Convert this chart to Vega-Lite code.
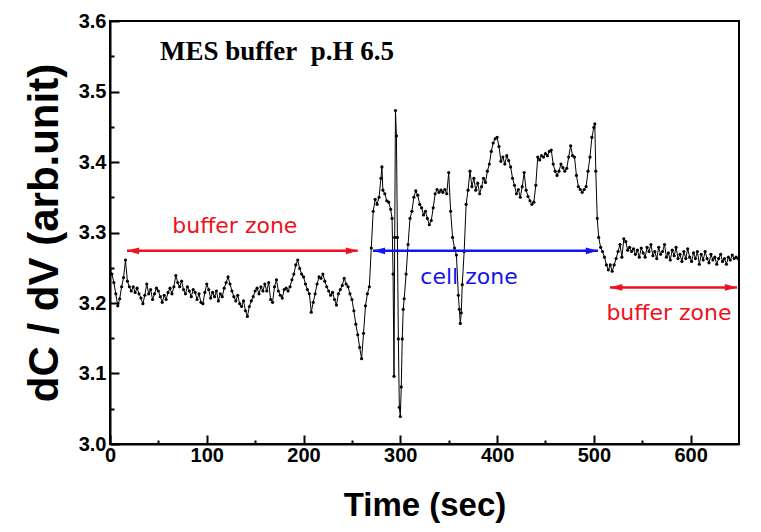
{
  "$schema": "https://vega.github.io/schema/vega-lite/v6.json",
  "width": 629,
  "height": 423,
  "autosize": {"type": "none"},
  "padding": {"left": 110, "top": 21, "right": 22, "bottom": 88},
  "background": "white",
  "config": {
    "view": {"stroke": "black", "strokeWidth": 2},
    "axis": {
      "domainColor": "black", "domainWidth": 2, "tickColor": "black", "tickWidth": 2,
      "grid": false, "labelFont": "Liberation Sans", "labelFontWeight": "bold", "labelFontSize": 20,
      "labelColor": "black", "titleFont": "Liberation Sans", "titleFontWeight": "bold", "titleColor": "black"
    }
  },
  "resolve": {"axis": {"x": "independent", "y": "independent"}},
  "datasets": {
    "series": [
      {"t":0,"v":3.247},{"t":2,"v":3.241},{"t":4,"v":3.229},{"t":6,"v":3.213},{"t":8,"v":3.196},{"t":10,"v":3.206},{"t":12,"v":3.223},{"t":14,"v":3.236},{"t":16,"v":3.261},{"t":18,"v":3.231},
      {"t":20,"v":3.223},{"t":22,"v":3.217},{"t":24,"v":3.223},{"t":26,"v":3.215},{"t":28,"v":3.221},{"t":30,"v":3.213},{"t":32,"v":3.207},{"t":34,"v":3.199},{"t":36,"v":3.211},{"t":38,"v":3.227},
      {"t":40,"v":3.213},{"t":42,"v":3.219},{"t":44,"v":3.205},{"t":46,"v":3.213},{"t":48,"v":3.221},{"t":50,"v":3.217},{"t":52,"v":3.209},{"t":54,"v":3.201},{"t":56,"v":3.211},{"t":58,"v":3.205},
      {"t":60,"v":3.215},{"t":62,"v":3.221},{"t":64,"v":3.213},{"t":66,"v":3.223},{"t":68,"v":3.239},{"t":70,"v":3.229},{"t":72,"v":3.223},{"t":74,"v":3.231},{"t":76,"v":3.219},{"t":78,"v":3.213},
      {"t":80,"v":3.223},{"t":82,"v":3.217},{"t":84,"v":3.209},{"t":86,"v":3.219},{"t":88,"v":3.215},{"t":90,"v":3.205},{"t":92,"v":3.213},{"t":94,"v":3.201},{"t":96,"v":3.199},{"t":98,"v":3.215},
      {"t":100,"v":3.227},{"t":102,"v":3.219},{"t":104,"v":3.207},{"t":106,"v":3.215},{"t":108,"v":3.209},{"t":110,"v":3.217},{"t":112,"v":3.203},{"t":114,"v":3.213},{"t":116,"v":3.209},{"t":118,"v":3.221},
      {"t":120,"v":3.229},{"t":122,"v":3.237},{"t":124,"v":3.227},{"t":126,"v":3.217},{"t":128,"v":3.209},{"t":130,"v":3.203},{"t":132,"v":3.211},{"t":134,"v":3.199},{"t":136,"v":3.195},{"t":138,"v":3.203},
      {"t":140,"v":3.189},{"t":142,"v":3.181},{"t":144,"v":3.195},{"t":146,"v":3.203},{"t":148,"v":3.209},{"t":150,"v":3.217},{"t":152,"v":3.221},{"t":154,"v":3.213},{"t":156,"v":3.223},{"t":158,"v":3.217},
      {"t":160,"v":3.227},{"t":162,"v":3.217},{"t":164,"v":3.229},{"t":166,"v":3.205},{"t":168,"v":3.201},{"t":170,"v":3.223},{"t":172,"v":3.233},{"t":174,"v":3.217},{"t":176,"v":3.211},{"t":178,"v":3.207},
      {"t":180,"v":3.219},{"t":182,"v":3.221},{"t":184,"v":3.217},{"t":186,"v":3.223},{"t":188,"v":3.233},{"t":190,"v":3.241},{"t":192,"v":3.254},{"t":194,"v":3.261},{"t":196,"v":3.249},{"t":198,"v":3.241},
      {"t":200,"v":3.237},{"t":202,"v":3.227},{"t":204,"v":3.219},{"t":206,"v":3.213},{"t":208,"v":3.187},{"t":210,"v":3.201},{"t":212,"v":3.213},{"t":214,"v":3.227},{"t":216,"v":3.237},{"t":218,"v":3.235},
      {"t":220,"v":3.241},{"t":222,"v":3.231},{"t":224,"v":3.223},{"t":226,"v":3.217},{"t":228,"v":3.211},{"t":230,"v":3.215},{"t":232,"v":3.205},{"t":234,"v":3.197},{"t":236,"v":3.213},{"t":238,"v":3.219},
      {"t":240,"v":3.225},{"t":242,"v":3.235},{"t":244,"v":3.227},{"t":246,"v":3.223},{"t":248,"v":3.213},{"t":250,"v":3.205},{"t":252,"v":3.189},{"t":254,"v":3.17},{"t":256,"v":3.155},{"t":258,"v":3.137},
      {"t":260,"v":3.121},{"t":262,"v":3.157},{"t":264,"v":3.196},{"t":266,"v":3.213},{"t":268,"v":3.223},{"t":270,"v":3.278},{"t":272,"v":3.33},{"t":274,"v":3.347},{"t":276,"v":3.34},{"t":278,"v":3.35},
      {"t":280,"v":3.377},{"t":281,"v":3.393},{"t":282,"v":3.36},{"t":284,"v":3.355},{"t":286,"v":3.345},{"t":288,"v":3.343},{"t":290,"v":3.333},{"t":291.5,"v":3.32},{"t":292.5,"v":3.241},{"t":293.5,"v":3.096},
      {"t":294.2,"v":3.293},{"t":295,"v":3.473},{"t":296,"v":3.437},{"t":297,"v":3.293},{"t":298,"v":3.149},{"t":299,"v":3.052},{"t":300,"v":3.039},{"t":301,"v":3.081},{"t":302,"v":3.149},{"t":303,"v":3.191},
      {"t":304,"v":3.206},{"t":306,"v":3.241},{"t":308,"v":3.283},{"t":310,"v":3.32},{"t":312,"v":3.33},{"t":314,"v":3.35},{"t":316,"v":3.359},{"t":318,"v":3.353},{"t":320,"v":3.34},{"t":322,"v":3.335},
      {"t":324,"v":3.325},{"t":326,"v":3.33},{"t":328,"v":3.32},{"t":330,"v":3.311},{"t":332,"v":3.317},{"t":334,"v":3.335},{"t":336,"v":3.355},{"t":338,"v":3.361},{"t":340,"v":3.357},{"t":342,"v":3.36},
      {"t":344,"v":3.357},{"t":346,"v":3.361},{"t":348,"v":3.355},{"t":350,"v":3.385},{"t":352,"v":3.33},{"t":354,"v":3.293},{"t":356,"v":3.278},{"t":358,"v":3.268},{"t":360,"v":3.211},{"t":361,"v":3.191},
      {"t":362,"v":3.171},{"t":363,"v":3.186},{"t":364,"v":3.226},{"t":366,"v":3.273},{"t":368,"v":3.34},{"t":370,"v":3.36},{"t":372,"v":3.387},{"t":374,"v":3.365},{"t":376,"v":3.377},{"t":378,"v":3.36},
      {"t":380,"v":3.37},{"t":382,"v":3.355},{"t":384,"v":3.365},{"t":386,"v":3.377},{"t":388,"v":3.371},{"t":390,"v":3.387},{"t":392,"v":3.397},{"t":394,"v":3.415},{"t":396,"v":3.427},{"t":398,"v":3.433},
      {"t":400,"v":3.435},{"t":402,"v":3.422},{"t":404,"v":3.401},{"t":406,"v":3.407},{"t":408,"v":3.397},{"t":410,"v":3.409},{"t":412,"v":3.402},{"t":414,"v":3.393},{"t":416,"v":3.377},{"t":418,"v":3.367},
      {"t":420,"v":3.355},{"t":422,"v":3.361},{"t":424,"v":3.35},{"t":426,"v":3.365},{"t":428,"v":3.385},{"t":430,"v":3.36},{"t":432,"v":3.351},{"t":434,"v":3.345},{"t":436,"v":3.34},{"t":438,"v":3.343},
      {"t":440,"v":3.367},{"t":442,"v":3.407},{"t":444,"v":3.403},{"t":446,"v":3.409},{"t":448,"v":3.407},{"t":450,"v":3.412},{"t":452,"v":3.409},{"t":454,"v":3.415},{"t":456,"v":3.417},{"t":458,"v":3.397},
      {"t":460,"v":3.387},{"t":462,"v":3.381},{"t":464,"v":3.387},{"t":466,"v":3.397},{"t":468,"v":3.392},{"t":470,"v":3.387},{"t":472,"v":3.391},{"t":474,"v":3.407},{"t":476,"v":3.423},{"t":478,"v":3.409},
      {"t":480,"v":3.407},{"t":482,"v":3.381},{"t":484,"v":3.365},{"t":486,"v":3.361},{"t":488,"v":3.357},{"t":490,"v":3.361},{"t":492,"v":3.365},{"t":494,"v":3.387},{"t":496,"v":3.407},{"t":498,"v":3.435},
      {"t":500,"v":3.449},{"t":501,"v":3.454},{"t":502,"v":3.387},{"t":503.5,"v":3.32},{"t":505,"v":3.293},{"t":507,"v":3.279},{"t":509,"v":3.273},{"t":511,"v":3.265},{"t":513,"v":3.254},{"t":515,"v":3.247},
      {"t":517,"v":3.254},{"t":519,"v":3.245},{"t":521,"v":3.254},{"t":523,"v":3.263},{"t":525,"v":3.273},{"t":527,"v":3.283},{"t":529,"v":3.265},{"t":531,"v":3.291},{"t":533,"v":3.287},{"t":535,"v":3.275},
      {"t":537,"v":3.279},{"t":539,"v":3.273},{"t":541,"v":3.277},{"t":543,"v":3.269},{"t":545,"v":3.275},{"t":547,"v":3.265},{"t":549,"v":3.278},{"t":551,"v":3.271},{"t":553,"v":3.265},{"t":555,"v":3.279},
      {"t":557,"v":3.273},{"t":559,"v":3.283},{"t":561,"v":3.267},{"t":563,"v":3.273},{"t":565,"v":3.263},{"t":567,"v":3.279},{"t":569,"v":3.269},{"t":571,"v":3.273},{"t":573,"v":3.283},{"t":575,"v":3.265},
      {"t":577,"v":3.271},{"t":579,"v":3.261},{"t":581,"v":3.275},{"t":583,"v":3.267},{"t":585,"v":3.279},{"t":587,"v":3.263},{"t":589,"v":3.269},{"t":591,"v":3.259},{"t":593,"v":3.273},{"t":595,"v":3.263},
      {"t":597,"v":3.277},{"t":599,"v":3.265},{"t":601,"v":3.259},{"t":603,"v":3.271},{"t":605,"v":3.263},{"t":607,"v":3.273},{"t":609,"v":3.255},{"t":611,"v":3.269},{"t":613,"v":3.261},{"t":615,"v":3.273},
      {"t":617,"v":3.263},{"t":619,"v":3.257},{"t":621,"v":3.269},{"t":623,"v":3.261},{"t":625,"v":3.265},{"t":627,"v":3.255},{"t":629,"v":3.263},{"t":631,"v":3.269},{"t":633,"v":3.259},{"t":635,"v":3.263},
      {"t":637,"v":3.255},{"t":639,"v":3.265},{"t":641,"v":3.261},{"t":643,"v":3.268},{"t":645,"v":3.263},{"t":647,"v":3.265},{"t":649,"v":3.263}
    ],
    "arrows": [
      {"zone": "buffer", "start": 17.6, "end": 256, "level": 3.274},
      {"zone": "cell", "start": 271.8, "end": 504.3, "level": 3.274},
      {"zone": "buffer", "start": 516.7, "end": 648, "level": 3.222}
    ],
    "heads": [
      {"zone": "buffer", "t": 23.8, "level": 3.274, "dir": "left"},
      {"zone": "buffer", "t": 250, "level": 3.274, "dir": "right"},
      {"zone": "cell", "t": 278, "level": 3.274, "dir": "left"},
      {"zone": "cell", "t": 498, "level": 3.274, "dir": "right"},
      {"zone": "buffer", "t": 523, "level": 3.222, "dir": "left"},
      {"zone": "buffer", "t": 641.7, "level": 3.222, "dir": "right"}
    ],
    "labels": [
      {"zone": "buffer", "t": 129, "level": 3.299, "text": "buffer zone"},
      {"zone": "cell", "t": 371, "level": 3.227, "text": "cell zone"},
      {"zone": "buffer", "t": 577.6, "level": 3.176, "text": "buffer zone"}
    ],
    "note": [{"t": 51.7, "level": 3.5447, "text": "MES buffer\u00a0\u00a0p.H 6.5"}]
  },
  "layer": [
    {
      "data": {"name": "series"},
      "mark": {"type": "line", "color": "black", "strokeWidth": 1, "clip": true, "point": {"filled": true, "size": 10, "color": "black"}},
      "encoding": {
        "x": {
          "field": "t", "type": "quantitative",
          "scale": {"domain": [0, 650], "nice": false},
          "axis": {
            "orient": "bottom", "title": "Time (sec)", "titleFontSize": 33, "titlePadding": 24,
            "values": [0, 100, 200, 300, 400, 500, 600],
            "tickSize": -9, "labelPadding": 10, "labelFlush": false
          }
        },
        "y": {
          "field": "v", "type": "quantitative",
          "scale": {"domain": [3.0, 3.6], "nice": false, "zero": false},
          "axis": {
            "orient": "left", "title": "dC / dV (arb.unit)", "titleFontSize": 42, "titlePadding": 12,
            "values": [3.0, 3.1, 3.2, 3.3, 3.4, 3.5, 3.6],
            "format": ".1f", "tickSize": -9, "labelPadding": 13, "labelFlush": false
          }
        }
      }
    },
    {
      "data": {"name": "arrows"},
      "mark": {"type": "rule", "strokeWidth": 2.5},
      "encoding": {
        "x": {"field": "start", "type": "quantitative", "axis": null},
        "x2": {"field": "end"},
        "y": {"field": "level", "type": "quantitative", "axis": null},
        "color": {"field": "zone", "type": "nominal", "scale": {"domain": ["buffer", "cell"], "range": ["#f01020", "#1414ee"]}, "legend": null}
      }
    },
    {
      "data": {"name": "heads"},
      "mark": {"type": "point", "filled": true, "opacity": 1, "size": 150},
      "encoding": {
        "x": {
          "field": "t", "type": "quantitative",
          "axis": {"orient": "bottom", "title": null, "labels": false, "domain": false, "tickSize": -4, "values": [50, 150, 250, 350, 450, 550]}
        },
        "y": {
          "field": "level", "type": "quantitative",
          "axis": {"orient": "left", "title": null, "labels": false, "domain": false, "tickSize": -4, "values": [3.05, 3.15, 3.25, 3.35, 3.45, 3.55]}
        },
        "shape": {"field": "dir", "type": "nominal", "scale": {"domain": ["left", "right"], "range": ["M-1,0L1,-0.55L1,0.55Z", "M1,0L-1,-0.55L-1,0.55Z"]}, "legend": null},
        "color": {"field": "zone", "type": "nominal", "legend": null}
      }
    },
    {
      "data": {"name": "labels"},
      "mark": {"type": "text", "font": "DejaVu Sans", "fontSize": 22, "align": "center", "baseline": "alphabetic"},
      "encoding": {
        "x": {"field": "t", "type": "quantitative", "axis": null},
        "y": {"field": "level", "type": "quantitative", "axis": null},
        "text": {"field": "text"},
        "color": {"field": "zone", "type": "nominal", "legend": null}
      }
    },
    {
      "data": {"name": "note"},
      "mark": {"type": "text", "font": "Liberation Serif", "fontSize": 27, "fontWeight": "bold", "align": "left", "baseline": "alphabetic", "color": "black"},
      "encoding": {
        "x": {"field": "t", "type": "quantitative", "axis": null},
        "y": {"field": "level", "type": "quantitative", "axis": null},
        "text": {"field": "text"}
      }
    }
  ]
}
